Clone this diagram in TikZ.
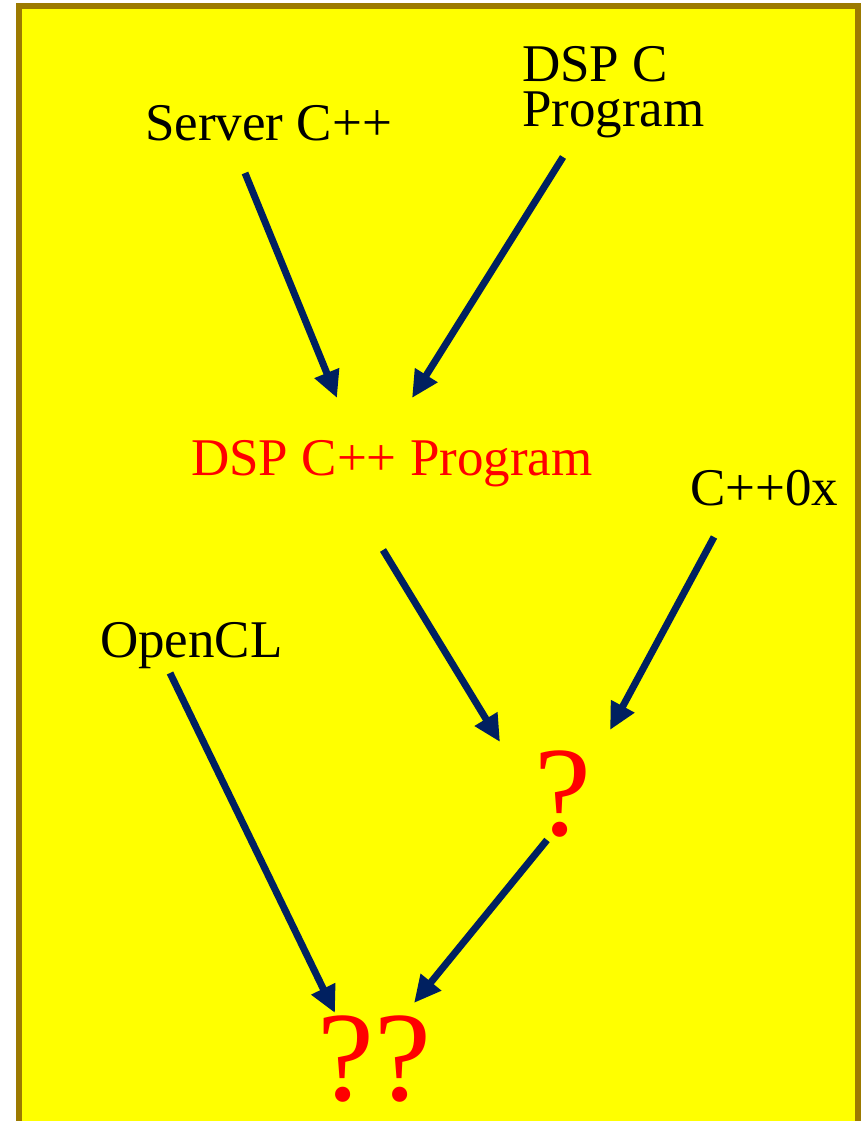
\documentclass[tikz,border=0pt]{standalone}
\usepackage{fontspec}
\setmainfont{Liberation Serif}
\usetikzlibrary{arrows.meta}
\definecolor{panelfill}{RGB}{255,255,0}
\definecolor{paneledge}{RGB}{156,122,0}
\definecolor{navy}{RGB}{0,32,96}
\definecolor{hot}{RGB}{255,0,0}
\tikzset{
  label/.style={inner sep=0pt, anchor=base west, font=\fontsize{53}{45}\selectfont},
  hilite/.style={label, text=hot},
  quest/.style={inner sep=0pt, anchor=base west, text=hot, font=\fontsize{128}{128}\selectfont},
  flow/.style={draw=navy, line width=7pt, -{Triangle[length=27pt,width=25pt]}}
}
\begin{document}
\begin{tikzpicture}[x=1pt,y=-1pt]
  \useasboundingbox (0,0) rectangle (861,1121);
  \clip (0,0) rectangle (861,1121);
  % yellow panel, open at the bottom
  \fill[panelfill] (19,6) rectangle (858,1140);
  \draw[paneledge, line width=6pt] (19,1140) -- (19,6) -- (858,6) -- (858,1140);

  % labels (the two-line one is anchored on its last baseline)
  \node[label] (srv) at (145,140) {Server C++};
  \node[label, align=left] (dspc) at (522,127) {DSP C\\Program};
  \node[hilite] (dsppp) at (191,475) {DSP C++ Program};
  \node[label] (cpp0x) at (690,505) {C++0x};
  \node[label] (ocl) at (100,657) {OpenCL};
  \node[quest] (q1) at (534,835) {?};
  \node[quest] (q2) at (317,1100) {??};

  % connectors
  \draw[flow] ([shift={(100,33)}]srv.base west) -- ([shift={(146,-77)}]dsppp.base west);
  \draw[flow] ([shift={(41,30)}]dspc.base west) -- ([shift={(221,-77)}]dsppp.base west);
  \draw[flow] ([shift={(192,75)}]dsppp.base west) -- ([shift={(-34,-93)}]q1.base west);
  \draw[flow] ([shift={(24,32)}]cpp0x.base west) -- ([shift={(76,-105)}]q1.base west);
  \draw[flow] ([shift={(70,16)}]ocl.base west) -- ([shift={(18,-87)}]q2.base west);
  \draw[flow] ([shift={(13,5)}]q1.base west) -- ([shift={(97,-97)}]q2.base west);
\end{tikzpicture}
\end{document}
